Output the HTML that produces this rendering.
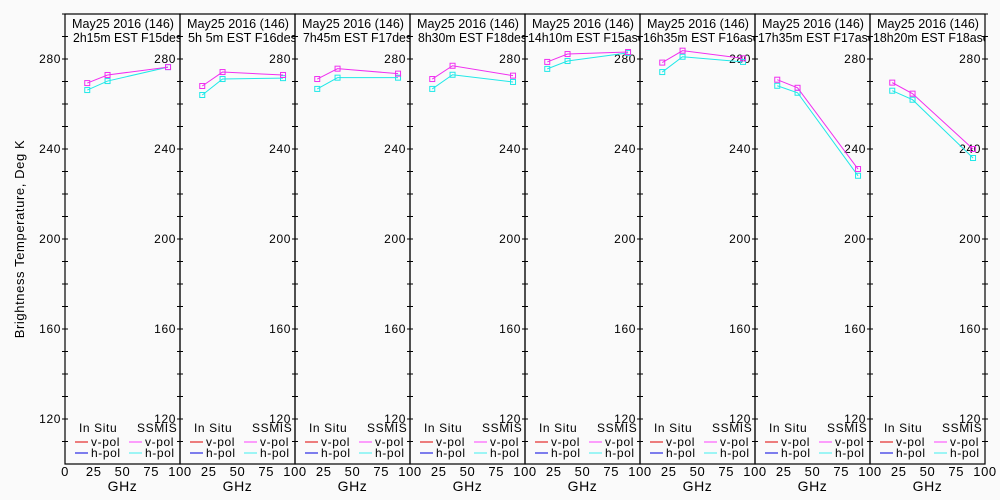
<!DOCTYPE html>
<html><head><meta charset="utf-8"><style>
body{margin:0;background:#fafafa;}
svg{display:block;font-family:"Liberation Sans",sans-serif;}
svg text.sp{letter-spacing:0.6px;}
</style></head><body>
<svg id="chart" width="1000" height="500">
<rect width="1000" height="500" fill="#fafafa"/>
<text x="24" y="239" font-size="13" text-anchor="middle" class="sp" transform="rotate(-90 24 239)">Brightness Temperature, Deg K</text>
<g id="panels"></g>
</svg>
<script>
const freqs = [19.35, 37, 89.6];
const titles1 = ["May25 2016 (146)","May25 2016 (146)","May25 2016 (146)","May25 2016 (146)","May25 2016 (146)","May25 2016 (146)","May25 2016 (146)","May25 2016 (146)"];
const titles2 = ["2h15m EST F15des","5h 5m EST F16des","7h45m EST F17des","8h30m EST F18des","14h10m EST F15asc","16h35m EST F16asc","17h35m EST F17asc","18h20m EST F18asc"];
const ssmisV = [[269.3,272.9,276.4],[268,274.2,272.9],[271.1,275.7,273.5],[271.1,277,272.6],[278.7,282.2,283.1],[278.4,283.7,280.3],[270.8,267.2,231.1],[269.5,264.6,240]];
const ssmisH = [[266.2,270.2,276.4],[264,271.1,271.5],[266.7,271.7,271.7],[266.7,273,269.8],[275.6,279.1,282.7],[274.2,281,278.7],[268.1,265,228.1],[265.9,261.9,236]];
const yTicks = [120,160,200,240,280];
const xTicks = [0,25,50,75,100];

const NS='http://www.w3.org/2000/svg';
const g=document.getElementById('panels');
const top0=14, bot=464, pw=115, left0=65;
function yS(v){return bot-(v-100)*(bot-top0)/200;}
function mk(tag,attrs,parent){const e=document.createElementNS(NS,tag);for(const k in attrs)e.setAttribute(k,attrs[k]);(parent||g).appendChild(e);return e;}

for(let p=0;p<8;p++){
  const x0=left0+p*pw;
  const xS=v=>x0+v*pw/100;
  const pg=mk('g',{});
  
  
  const cp=mk('clipPath',{id:'cp'+p},pg);
  mk('rect',{x:x0,y:0,width:pw,height:500},cp);
  const t1=mk('text',{x:x0+7,y:28,'font-size':13,textLength:102,lengthAdjust:'spacingAndGlyphs','clip-path':'url(#cp'+p+')'},pg);
  t1.textContent=titles1[p];
  
  
  const l2len = titles2[p].length>16 ? 116 : 109;
  const t2=mk('text',{x:p>=4?x0+3:x0+8,y:42,'font-size':13,textLength:l2len,lengthAdjust:'spacingAndGlyphs','clip-path':'url(#cp'+p+')'},pg);
  t2.textContent=titles2[p];
  
  
  const fr=mk('rect',{x:x0,y:top0,width:pw,height:bot-top0,fill:'none',stroke:'#000','stroke-width':1.2},pg);
  
  
  for(let v=110;v<=300;v+=10){
    const y=yS(v);
    mk('line',{x1:x0+pw-3,x2:x0+pw+3,y1:y,y2:y,stroke:'#000'},pg);
    if(p===0) mk('line',{x1:x0-3,x2:x0+3,y1:y,y2:y,stroke:'#000'},pg);
  }
  yTicks.forEach(v=>{
    const t=mk('text',{x:x0+pw-4,y:yS(v)+4,'font-size':12,'text-anchor':'end',class:'sp'},pg);
    t.textContent=v;
    
    
    if(p===0){
      const t0=mk('text',{x:x0-4,y:yS(v)+4,'font-size':12,'text-anchor':'end',class:'sp'},pg);
      t0.textContent=v;
      
      
    }
  });
  xTicks.forEach(v=>{
    if(p>0 && v===0) return;
    const t=mk('text',{x:xS(v),y:476,'font-size':13,'text-anchor':'middle',class:'sp'},pg);
    t.textContent=v;
    
    
  });
  const gx=mk('text',{x:x0+pw/2,y:491,'font-size':14,'text-anchor':'middle',class:'sp'},pg);
  gx.textContent='GHz';
  
  
  const l1=mk('text',{x:x0+14,y:432,'font-size':12,class:'sp'},pg); l1.textContent='In Situ';
  
  
  const l2=mk('text',{x:x0+72,y:432,'font-size':12,class:'sp'},pg); l2.textContent='SSMIS';
  
  
  [['#e00000','v-pol',442,10,'legend-insitu-vpol'],['#0000e0','h-pol',453,10,'legend-insitu-hpol'],['#ff40ff','v-pol',442,64,'legend-ssmis-vpol'],['#40f0f0','h-pol',453,64,'legend-ssmis-hpol']].forEach(a=>{
    mk('line',{x1:x0+a[3],x2:x0+a[3]+13,y1:a[2],y2:a[2],stroke:a[0]},pg);
    const t=mk('text',{x:x0+a[3]+16,y:a[2]+4,'font-size':12,class:'sp'},pg); t.textContent=a[1];
    
    
  });
  [[ssmisH[p],'#20e8e8','ssmis-hpol-line'],[ssmisV[p],'#f030f0','ssmis-vpol-line']].forEach(s=>{
    const pts=s[0].map((v,i)=>xS(freqs[i])+','+yS(v)).join(' ');
    const pl=mk('polyline',{points:pts,fill:'none',stroke:s[1],'stroke-width':1},pg);
    
    
    s[0].forEach((v,i)=>{
      const r=mk('rect',{x:xS(freqs[i])-2.5,y:yS(v)-2.5,width:5,height:5,fill:'none',stroke:s[1],'stroke-width':1},pg);
      
      
    });
  });
}
</script>
</body></html>
